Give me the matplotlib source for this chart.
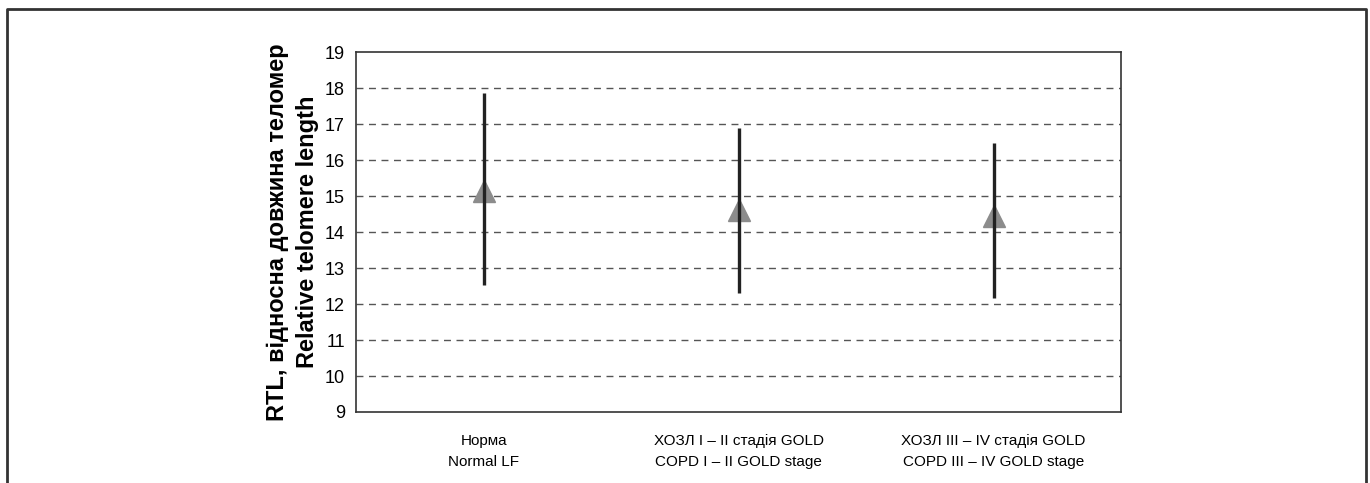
import matplotlib
matplotlib.use('Agg')
import matplotlib.pyplot as plt
from matplotlib.lines import Line2D

# groups and values
groups = ['Норма\nNormal LF',
          'ХОЗЛ І – ІІ стадія GOLD\nCOPD I – II GOLD stage',
          'ХОЗЛ ІІІ – IV стадія GOLD\nCOPD III – IV GOLD stage']
means = [15.13, 14.60, 14.45]
lows = [12.53, 12.30, 12.18]
highs = [17.87, 16.88, 16.48]
yticks = list(range(9, 20))

sans = ['Liberation Sans', 'DejaVu Sans']

fig = plt.figure(figsize=(13.7, 4.83), dpi=100)
ax = fig.add_axes([0.2599, 0.147, 0.5584, 0.7453])

xs = [0.5, 1.5, 2.5]
ax.plot(xs, means, linestyle='none', marker='^', markersize=16,
        color='#8c8c8c', zorder=3)
ax.vlines(xs, lows, highs, color='#222222', linewidth=2.4, zorder=4)

ax.set_xlim(0, 3)
ax.set_ylim(9, 19)
ax.set_yticks(yticks)
ax.set_yticklabels([str(t) for t in yticks], family=sans, fontsize=13)
ax.set_xticks(xs)
ax.set_xticklabels(groups, family=sans, fontsize=11, linespacing=1.65)
ax.tick_params(axis='y', length=0, pad=8)
ax.tick_params(axis='x', length=0, pad=16)
for t in yticks[1:-1]:
    ax.axhline(t, color='#555555', linewidth=1.0, linestyle=(0, (5, 4)), zorder=1)
for s in ax.spines.values():
    s.set_color('#333333')
    s.set_linewidth(1.2)

ax.set_ylabel('RTL, відносна довжина теломер\nRelative telomere length',
              fontsize=17, fontweight='bold', family=sans,
              linespacing=1.4, labelpad=4)

# outer frame (left, top, right)
W, H = 1370, 483
x0, x1, y0 = 7 / W, 1366 / W, 1 - 9 / H
fig.add_artist(Line2D([x0, x0, x1, x1], [0, y0, y0, 0], transform=fig.transFigure,
                      color='#333333', linewidth=2.0))

fig.savefig('out.png', dpi=100)
